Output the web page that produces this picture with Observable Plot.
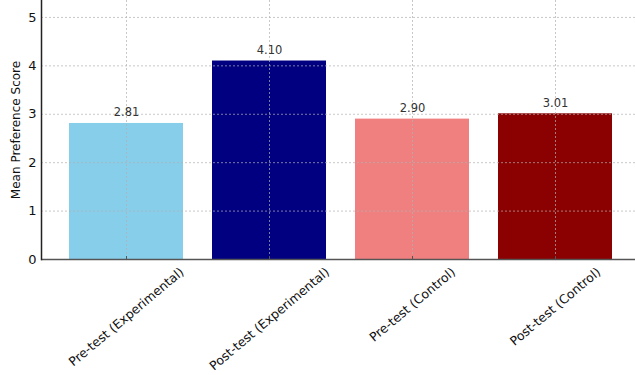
<!DOCTYPE html>
<html>
<head>
<meta charset="utf-8">
<script src="https://cdn.jsdelivr.net/npm/d3@7"></script>
<script src="https://cdn.jsdelivr.net/npm/@observablehq/plot@0.6"></script>
<style>
  html, body { margin: 0; padding: 0; background: #fff; overflow: hidden; }
  #chart { width: 635px; height: 375px; overflow: hidden; }
  svg { font-family: "DejaVu Sans", sans-serif; }
</style>
</head>
<body>
<div id="chart"></div>
<script>
const categories = ["Pre-test (Experimental)", "Post-test (Experimental)", "Pre-test (Control)", "Post-test (Control)"];
const values = [2.81, 4.10, 2.90, 3.01];
const barColors = ["#87CEEB", "#000080", "#F08080", "#8B0000"];
const yTicks = [0, 1, 2, 3, 4, 5];
const yLabel = "Mean Preference Score";

const data = categories.map((c, i) => ({category: c, value: values[i]}));

// Emulate matplotlib's rotated, centre-aligned, top-anchored tick labels
const labelFont = 12.5;
const angle = 40;
const ctx = document.createElement("canvas").getContext("2d");
ctx.font = `${labelFont}px "DejaVu Sans"`;
const rad = angle * Math.PI / 180;
const labelMarks = categories.map(c => {
  const L = ctx.measureText(c).width;
  const boxH = L * Math.sin(rad) + labelFont * Math.cos(rad);
  return Plot.text([c], {
    x: d => d, frameAnchor: "bottom", dy: 6 + boxH / 2,
    rotate: -angle, textAnchor: "middle", lineAnchor: "middle",
    fontSize: labelFont, fill: "#111"
  });
});

const chart = Plot.plot({
  width: 635,
  height: 375,
  marginLeft: 41,
  marginRight: -6,
  marginTop: 0,
  marginBottom: 116,
  style: {fontFamily: "DejaVu Sans, sans-serif", background: "#fff"},
  x: {domain: categories, paddingInner: 0.2, paddingOuter: 0.19, axis: null},
  y: {domain: [0, 5.35], axis: null},
  color: {domain: categories, range: barColors},
  marks: [
    Plot.barY(data, {x: "category", y: "value", fill: "category"}),
    Plot.gridY(yTicks.filter(d => d > 0), {stroke: "#b0b0b0", strokeOpacity: 0.7, strokeDasharray: "2,2", strokeWidth: 1}),
    Plot.gridX(categories, {stroke: "#b0b0b0", strokeOpacity: 0.7, strokeDasharray: "2,2", strokeWidth: 1}),
    Plot.text(data, {x: "category", y: "value", text: d => d.value.toFixed(2), dy: -7, fontSize: 11.5, fill: "#333", lineAnchor: "bottom"}),
    Plot.ruleY([0], {stroke: "#555", strokeWidth: 1.5}),
    Plot.frame({anchor: "left", stroke: "#222", strokeWidth: 1.5}),
    Plot.axisX({tickSize: 3, dy: -3, tickFormat: () => "", stroke: "#555", label: null}),
    Plot.axisY({ticks: yTicks, tickFormat: d => String(d), tickSize: 0, tickPadding: 5, fontSize: 13, fill: "#111", label: null}),
    ...labelMarks,
    Plot.text([yLabel], {frameAnchor: "left", dx: -25, rotate: -90, textAnchor: "middle", fontSize: 12, fill: "#111"})
  ]
});
document.getElementById("chart").appendChild(chart);
</script>
</body>
</html>
